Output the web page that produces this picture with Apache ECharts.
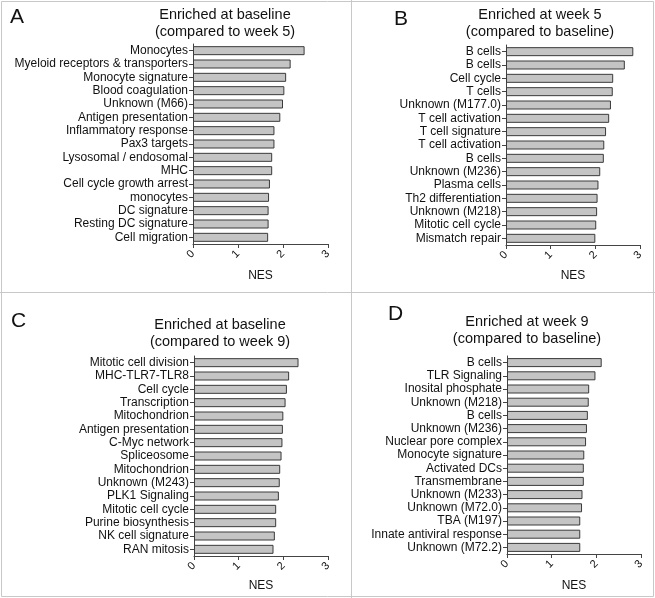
<!DOCTYPE html>
<html>
<head>
<meta charset="utf-8">
<script src="https://cdn.jsdelivr.net/npm/echarts@6/dist/echarts.min.js"></script>
<style>
html, body { margin: 0; padding: 0; background: #fff; }
#chart { width: 655px; height: 598px; }
</style>
</head>
<body>
<div id="chart"></div>
<script>
var catsA = ['Monocytes', 'Myeloid receptors & transporters', 'Monocyte signature', 'Blood coagulation',
	'Unknown (M66)', 'Antigen presentation', 'Inflammatory response', 'Pax3 targets',
	'Lysosomal / endosomal', 'MHC', 'Cell cycle growth arrest', 'monocytes', 'DC signature',
	'Resting DC signature', 'Cell migration'];
var valsA = [2.48, 2.17, 2.07, 2.03, 2.00, 1.94, 1.81, 1.81, 1.76, 1.76, 1.71, 1.69, 1.68, 1.68, 1.67];

var catsB = ['B cells', 'B cells', 'Cell cycle', 'T cells', 'Unknown (M177.0)', 'T cell activation',
	'T cell signature', 'T cell activation', 'B cells', 'Unknown (M236)', 'Plasma cells',
	'Th2 differentiation', 'Unknown (M218)', 'Mitotic cell cycle', 'Mismatch repair'];
var valsB = [2.85, 2.66, 2.40, 2.39, 2.35, 2.31, 2.24, 2.20, 2.19, 2.11, 2.07, 2.05, 2.04, 2.02, 2.00];

var catsC = ['Mitotic cell division', 'MHC-TLR7-TLR8', 'Cell cycle', 'Transcription', 'Mitochondrion',
	'Antigen presentation', 'C-Myc network', 'Spliceosome', 'Mitochondrion', 'Unknown (M243)',
	'PLK1 Signaling', 'Mitotic cell cycle', 'Purine biosynthesis', 'NK cell signature', 'RAN mitosis'];
var valsC = [2.34, 2.13, 2.08, 2.05, 2.00, 1.99, 1.98, 1.96, 1.93, 1.92, 1.90, 1.84, 1.84, 1.81, 1.78];

var catsD = ['B cells', 'TLR Signaling', 'Inosital phosphate', 'Unknown (M218)', 'B cells',
	'Unknown (M236)', 'Nuclear pore complex', 'Monocyte signature', 'Activated DCs', 'Transmembrane',
	'Unknown (M233)', 'Unknown (M72.0)', 'TBA (M197)', 'Innate antiviral response', 'Unknown (M72.2)'];
var valsD = [2.12, 1.98, 1.84, 1.83, 1.81, 1.79, 1.77, 1.73, 1.72, 1.72, 1.69, 1.68, 1.64, 1.64, 1.64];

var xTicks = [0, 1, 2, 3];

var FONT = '"Liberation Sans", Arial, sans-serif';
var chart = echarts.init(document.getElementById('chart'), null, { renderer: 'canvas' });

var panels = [
	{ cats: catsA, vals: valsA, grid: { left: 193, top: 44, width: 135, height: 200 }, gap: 26 },
	{ cats: catsB, vals: valsB, grid: { left: 506, top: 45, width: 134, height: 200 }, gap: 25 },
	{ cats: catsC, vals: valsC, grid: { left: 194, top: 356, width: 134, height: 200 }, gap: 24 },
	{ cats: catsD, vals: valsD, grid: { left: 507, top: 356, width: 134, height: 198 }, gap: 26 }
];

function txt(x, y, text, size) {
	return {
		type: 'text', x: x, y: y, silent: true,
		style: {
			text: text, fill: '#111', font: size + 'px ' + FONT,
			textAlign: 'center', textVerticalAlign: 'middle',
			align: 'center', verticalAlign: 'middle'
		}
	};
}

function letter(x, y, text) {
	return {
		type: 'text', x: x, y: y, silent: true,
		style: {
			text: text, fill: '#111', font: '21px ' + FONT,
			textAlign: 'left', textVerticalAlign: 'middle',
			align: 'left', verticalAlign: 'middle'
		}
	};
}

var lineStyle = { stroke: '#c8c8c8', lineWidth: 1 };

var option = {
	animation: false,
	backgroundColor: '#fff',
	grid: panels.map(function (p) { return p.grid; }),
	xAxis: panels.map(function (p, i) {
		return {
			type: 'value',
			gridIndex: i,
			min: 0,
			max: 3,
			interval: 1,
			name: 'NES',
			nameLocation: 'middle',
			nameGap: p.gap,
			nameTextStyle: { fontFamily: FONT, fontSize: 12, color: '#111' },
			axisLine: { show: true, lineStyle: { color: '#444', width: 1 } },
			axisTick: { show: true, length: 4, lineStyle: { color: '#444' } },
			axisLabel: {
				rotate: 45, margin: 8, fontFamily: FONT, fontSize: 11, color: '#111',
				formatter: function (v) { return xTicks.indexOf(v) >= 0 ? String(v) : ''; }
			},
			splitLine: { show: false }
		};
	}),
	yAxis: panels.map(function (p, i) {
		return {
			type: 'category',
			gridIndex: i,
			inverse: true,
			data: p.cats,
			axisLine: { show: true, lineStyle: { color: '#444', width: 1 } },
			axisTick: { show: true, length: 4, alignWithLabel: true, lineStyle: { color: '#444' } },
			axisLabel: { margin: 5, fontFamily: FONT, fontSize: 12, color: '#111', interval: 0 },
			splitLine: { show: false }
		};
	}),
	series: panels.map(function (p, i) {
		return {
			type: 'bar',
			xAxisIndex: i,
			yAxisIndex: i,
			data: p.vals,
			barWidth: 9,
			itemStyle: { color: '#c4c4c4', borderColor: '#3a3a3a', borderWidth: 1 }
		};
	}),
	graphic: [
		{ type: 'rect', silent: true, shape: { x: 1.5, y: 1.5, width: 652, height: 595 }, style: { fill: 'none', stroke: '#c8c8c8', lineWidth: 1 } },
		{ type: 'line', silent: true, shape: { x1: 351.5, y1: 0, x2: 351.5, y2: 598 }, style: lineStyle },
		{ type: 'line', silent: true, shape: { x1: 0, y1: 292.5, x2: 655, y2: 292.5 }, style: lineStyle },
		letter(10, 17, 'A'),
		txt(225, 15, 'Enriched at baseline', 14.5),
		txt(225, 32, '(compared to week 5)', 14.5),
		letter(394, 19, 'B'),
		txt(540, 15, 'Enriched at week 5', 14.5),
		txt(540, 32, '(compared to baseline)', 14.5),
		letter(11, 321, 'C'),
		txt(220, 325, 'Enriched at baseline', 14.5),
		txt(220, 342, '(compared to week 9)', 14.5),
		letter(388, 314, 'D'),
		txt(527, 322, 'Enriched at week 9', 14.5),
		txt(527, 339, '(compared to baseline)', 14.5)
	]
};

chart.setOption(option);
</script>
</body>
</html>
